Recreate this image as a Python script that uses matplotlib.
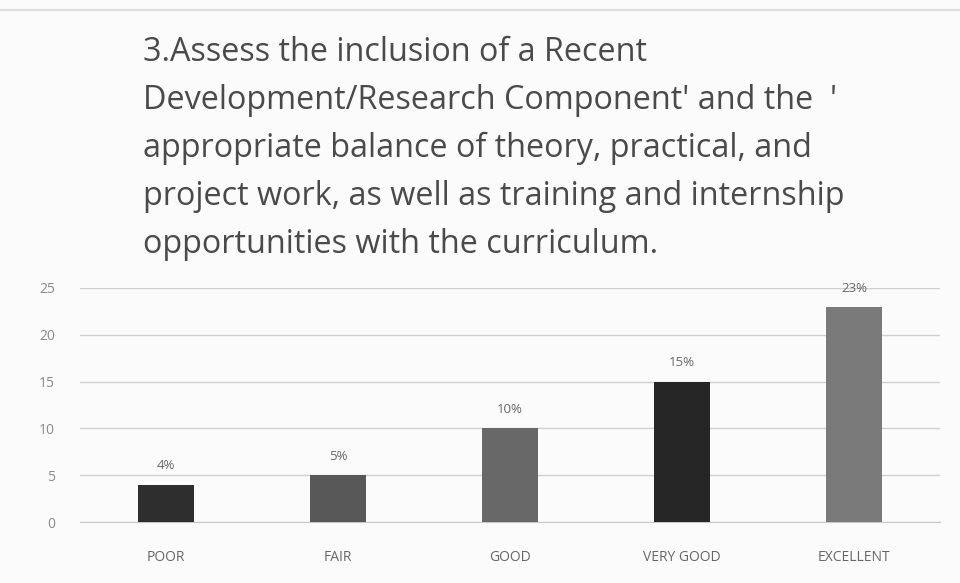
import matplotlib.pyplot as plt

categories = ["POOR", "FAIR", "GOOD", "VERY GOOD", "EXCELLENT"]
values = [4, 5, 10, 15, 23]
labels = ["4%", "5%", "10%", "15%", "23%"]
colors = ["#2e2e2e", "#585858", "#686868", "#262626", "#7a7a7a"]
yticks = [0, 5, 10, 15, 20, 25]

title = ("3.Assess the inclusion of a Recent\n"
         "Development/Research Component' and the  '\n"
         "appropriate balance of theory, practical, and\n"
         "project work, as well as training and internship\n"
         "opportunities with the curriculum.")

plt.rcParams["font.family"] = ["Open Sans", "DejaVu Sans"]

fig = plt.figure(figsize=(9.6, 5.83), dpi=100)
fig.patch.set_facecolor("#fbfbfb")
ax = fig.add_axes([80 / 960, (583 - 522) / 583, 860 / 960, 234 / 583])
ax.set_facecolor("#fbfbfb")

x = range(len(categories))
ax.bar(x, values, width=0.32, color=colors, zorder=3)
for xi, v, lab in zip(x, values, labels):
    ax.text(xi, v + 1.3, lab, ha="center", va="bottom", fontsize=9.5, color="#666666")

ax.set_xlim(-0.5, 4.5)
ax.set_ylim(0, 25)
ax.set_yticks(yticks)
ax.set_xticks(list(x))
ax.set_xticklabels(categories, fontsize=10, color="#666666")
ax.tick_params(axis="y", labelsize=10, labelcolor="#8a8a8a", length=0, pad=18)
ax.tick_params(axis="x", length=0, pad=20)
ax.grid(axis="y", color="#d0d0d0", linewidth=1, zorder=0)
for s in ["top", "right", "left"]:
    ax.spines[s].set_visible(False)
ax.spines["bottom"].set_color("#c8c8c8")

fig.text(143 / 960, 1 - 36 / 583, title, ha="left", va="top", fontsize=23.3,
         color="#4a4a4a", linespacing=1.6)

# faint scan line along the top edge
fig.add_artist(plt.Line2D([0, 1], [1 - 10 / 583, 1 - 10 / 583], color="#dddddd", linewidth=1.5))

fig.savefig("out.png", dpi=100, facecolor=fig.get_facecolor())
